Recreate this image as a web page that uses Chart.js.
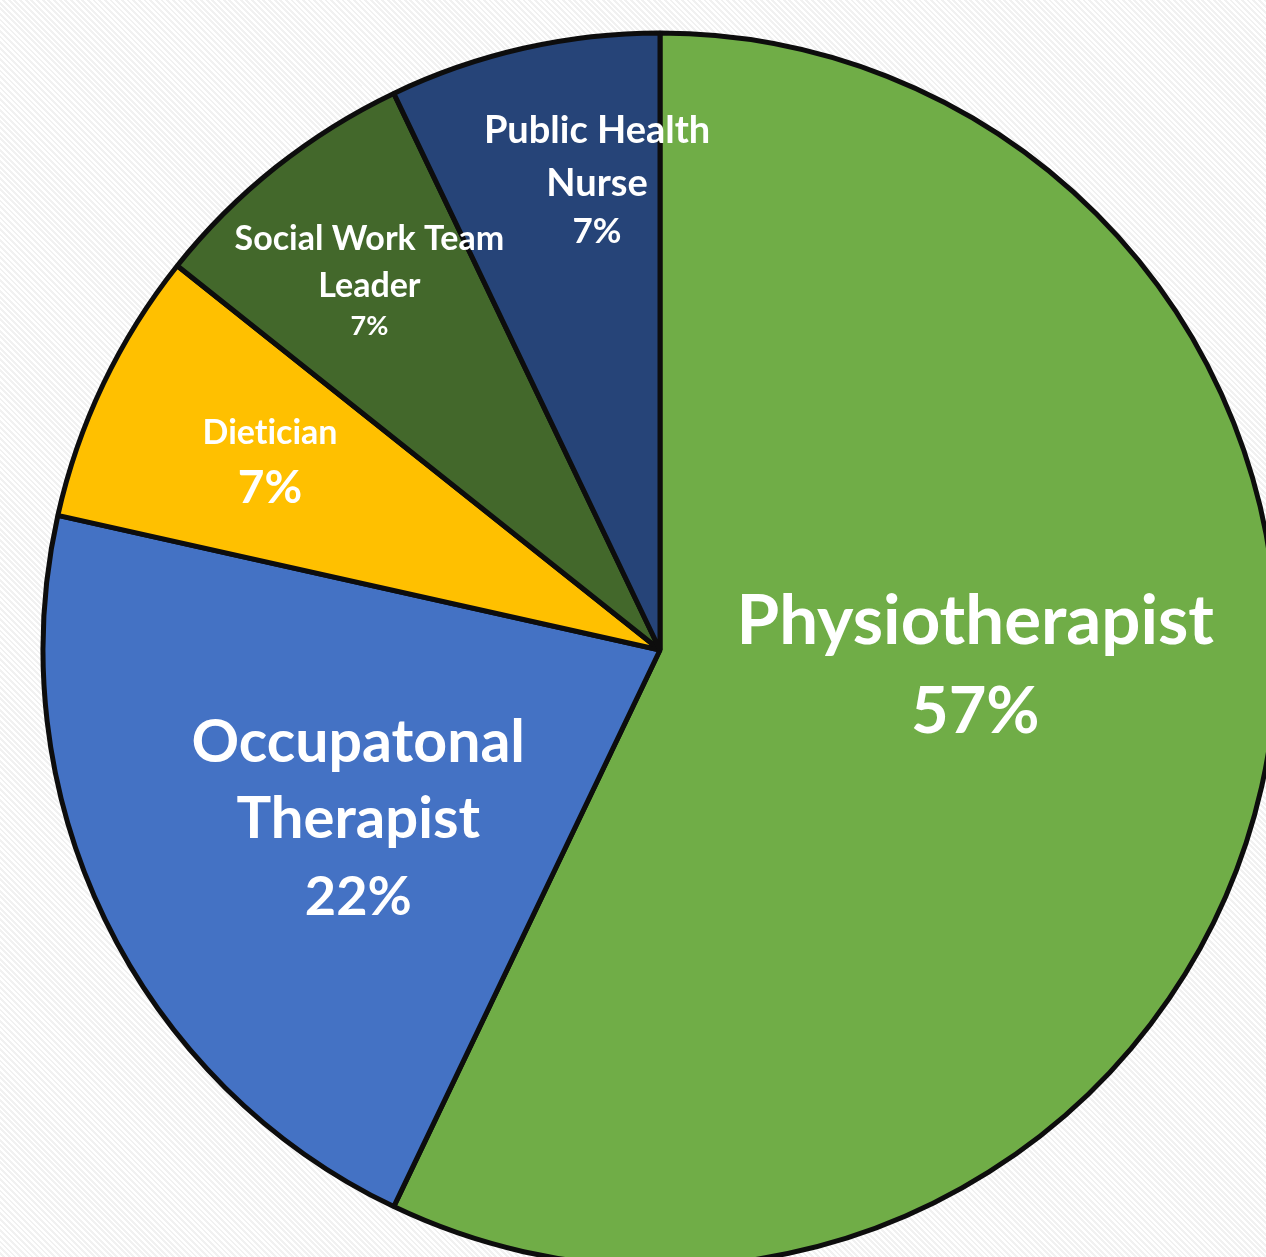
<!DOCTYPE html>
<html>
<head>
<meta charset="utf-8">
<script src="https://cdn.jsdelivr.net/npm/chart.js@4"></script>
<style>
  html, body { margin: 0; padding: 0; width: 1266px; height: 1257px; overflow: hidden; }
  body {
    position: relative;
    background: repeating-linear-gradient(45deg, #ffffff 0px, #ffffff 2px, #f1f1f1 2px, #f1f1f1 4px);
  }
  #wrap { position: absolute; left: 40px; top: 30px; width: 1240px; height: 1240px; }
</style>
</head>
<body>
<div id="wrap"><canvas id="c" width="1240" height="1240"></canvas></div>
<script>
// ---- data ----
const categories = [
  ['Physiotherapist'],
  ['Occupatonal', 'Therapist'],
  ['Dietician'],
  ['Social Work Team', 'Leader'],
  ['Public Health', 'Nurse']
];
const shares = [57.1, 21.4, 7.2, 7.2, 7.1];
const percentLabels = ['57%', '22%', '7%', '7%', '7%'];

// ---- styles ----
const sliceColors = ['#70AD47', '#4472C4', '#FFC000', '#43682B', '#264478'];
// per-slice label layout: x offset and y offset of each line (fractions of radius), font px per line
const labelLayout = [
  { dx: 0.511, lines: [{ dy: -0.046, size: 69 }, { dy: 0.101, size: 65 }] },
  { dx: -0.489, lines: [{ dy: 0.150, size: 59 }, { dy: 0.274, size: 58 }, { dy: 0.402, size: 54 }] },
  { dx: -0.632, lines: [{ dy: -0.352, size: 34 }, { dy: -0.263, size: 46 }] },
  { dx: -0.471, lines: [{ dy: -0.666, size: 34 }, { dy: -0.590, size: 34 }, { dy: -0.525, size: 27 }] },
  { dx: -0.102, lines: [{ dy: -0.842, size: 38 }, { dy: -0.755, size: 38 }, { dy: -0.678, size: 35 }] }
];

const labelPlugin = {
  id: 'sliceLabels',
  afterDatasetsDraw(chart) {
    const ctx = chart.ctx;
    const meta = chart.getDatasetMeta(0);
    meta.data.forEach((arc, i) => {
      const R = arc.outerRadius;
      const lay = labelLayout[i];
      const texts = categories[i].concat([percentLabels[i]]);
      ctx.save();
      if ('textRendering' in ctx) ctx.textRendering = 'optimizeSpeed';
      ctx.fillStyle = '#ffffff';
      ctx.textAlign = 'center';
      ctx.textBaseline = 'middle';
      texts.forEach((t, k) => {
        const ln = lay.lines[k];
        ctx.font = '700 ' + ln.size + 'px Lato, "Open Sans", sans-serif';
        ctx.fillText(t, arc.x + lay.dx * R, arc.y + ln.dy * R);
      });
      ctx.restore();
    });
  }
};

new Chart(document.getElementById('c'), {
  type: 'pie',
  data: {
    labels: categories,
    datasets: [{
      data: shares,
      backgroundColor: sliceColors,
      borderColor: '#0d0d0d',
      borderWidth: 5,
      hoverOffset: 0,
      offset: 0,
      radius: 617
    }]
  },
  options: {
    responsive: false,
    animation: false,
    events: [],
    layout: { padding: 0 },
    plugins: { legend: { display: false }, tooltip: { enabled: false } }
  },
  plugins: [labelPlugin]
});
</script>
</body>
</html>
